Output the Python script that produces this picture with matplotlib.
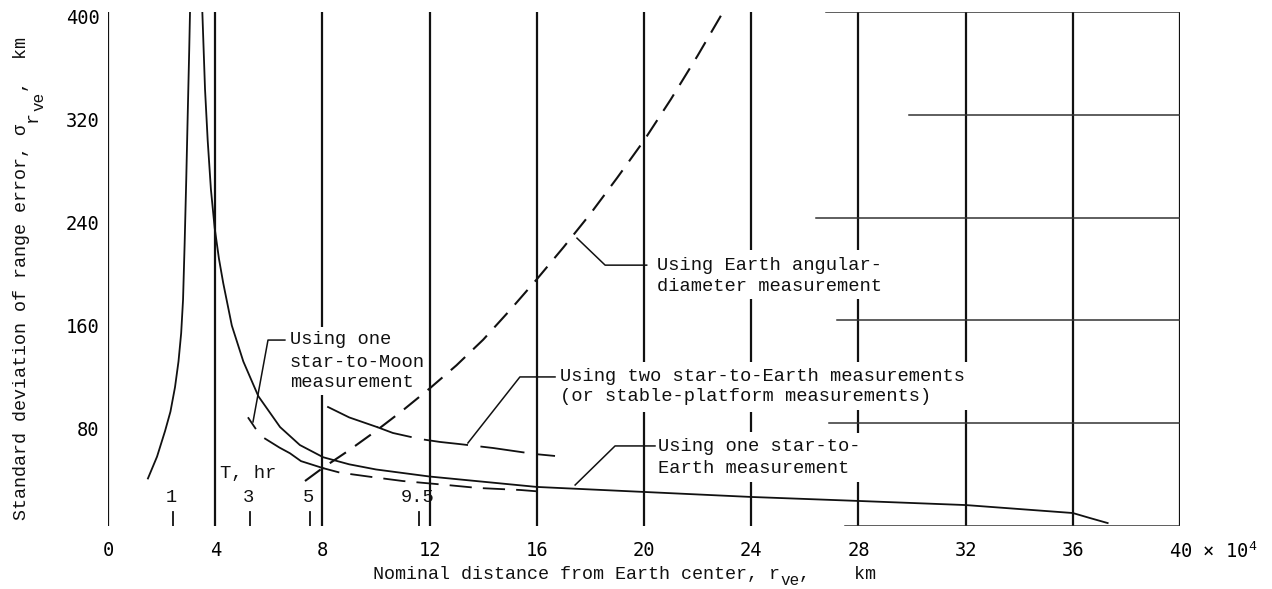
import matplotlib
matplotlib.use("Agg")
import matplotlib.pyplot as plt
from matplotlib.transforms import ScaledTranslation

plt.rcParams["font.family"] = ["Liberation Mono", "DejaVu Sans Mono"]
plt.rcParams["mathtext.fontset"] = "custom"
plt.rcParams["mathtext.rm"] = "Liberation Mono"
plt.rcParams["mathtext.it"] = "Liberation Mono"
plt.rcParams["mathtext.default"] = "rm"
plt.rcParams["lines.scale_dashes"] = False

# distance in units of 10^4 km, range error sigma in km
# one star-to-Earth measurement (two branches either side of the singularity)
earth1_left_x = [1.49, 1.83, 2.13, 2.33, 2.5, 2.63, 2.73, 2.80, 2.86, 2.92, 2.98, 3.03, 3.06]
earth1_left_y = [37, 54, 74, 89, 108, 128, 150, 176, 220, 270, 325, 370, 400]
earth1_right_x = [3.52, 3.62, 3.72, 3.84, 3.98, 4.14, 4.30, 4.62, 5.05, 5.61, 6.42, 7.16,
                  8.03, 9.0, 10.0, 12.0, 16.0, 20.0, 24.0, 28.0, 32.0, 36.0, 36.64, 37.3]
earth1_right_y = [400, 340, 300, 262, 232, 208, 189, 156, 128, 101, 77, 63,
                  53.5, 48, 44, 38.5, 30.4, 26.5, 22.6, 19.5, 16.3, 10.1, 6.2, 2.3]

# one star-to-Moon measurement
moon_x = [5.24, 5.5, 5.86, 6.4, 6.79, 7.2, 8.03, 8.66, 9.89, 11.0, 12.6, 13.8, 15.4, 16.0]
moon_y = [84, 76, 68, 61, 56.6, 50.5, 45, 41.5, 38, 35, 32, 29.6, 28, 27]

# two star-to-Earth measurements (or stable-platform measurements)
two_x = [8.21, 9.0, 10.04, 10.63, 11.64, 12.39, 13.1, 14.37, 15.93, 16.68]
two_y = [92.6, 84.5, 77, 72.4, 67.7, 65.4, 63.8, 60.7, 56, 54.5]

# Earth angular-diameter measurement
ang_x = [7.35, 8, 9, 10, 11, 12, 13, 14, 15, 16, 17, 18, 19, 20, 21, 22, 22.95]
ang_y = [35, 45, 59, 74, 90, 107, 125, 145, 168, 192, 217, 243, 271, 300, 332, 366, 400]

# flight time markers along the distance axis
time_labels = ["1", "3", "5", "9.5"]
time_x = [2.43, 5.3, 7.54, 11.6]

x_ticks = [0, 4, 8, 12, 16, 20, 24, 28, 32, 36, 40]
x_labels = ["0", "4", "8", "12", "16", "20", "24", "28", "32", "36", "40 × 10$^4$"]
y_ticks = [80, 160, 240, 320, 400]

W, H = 1272, 589
fig = plt.figure(figsize=(W / 100, H / 100), dpi=100)
ax = fig.add_axes([108 / W, 63 / H, 1072 / W, 514 / H])
ax.set_xlim(0, 40)
ax.set_ylim(0, 400)
for s in ax.spines.values():
    s.set_visible(False)

ink = "#111111"

# vertical rulings, broken where the notes sit
breaks = {
    8: [(0, 102), (155, 400)],
    20: [(0, 89), (128, 400)],
    24: [(0, 34), (73, 89), (128, 177), (215, 400)],
    28: [(0, 34), (72, 90), (128, 177), (215, 400)],
    32: [(0, 90), (128, 400)],
}
for xv in x_ticks:
    for y0, y1 in breaks.get(xv, [(0, 400)]):
        ax.plot([xv, xv], [y0, y1], color=ink, lw=1.6, solid_capstyle="butt")

# horizontal rulings only on the right part of the sheet
h_start = {400: 26.8, 320: 29.9, 240: 26.4, 160: 27.2, 80: 26.9, 0: 27.5}
for yv, x0 in h_start.items():
    ax.plot([x0, 40], [yv, yv], color="#333333", lw=1.1)

lw = 1.3
ax.plot(earth1_left_x, earth1_left_y, color=ink, lw=lw)
ax.plot(earth1_right_x, earth1_right_y, color=ink, lw=lw)

ax.plot(moon_x[:2], moon_y[:2], color=ink, lw=lw)
ax.plot(moon_x[2:7], moon_y[2:7], color=ink, lw=lw)
ax.plot(moon_x[6:], moon_y[6:], color=ink, lw=lw, linestyle=(4, (16, 8)))

ax.plot(two_x[:3], two_y[:3], color=ink, lw=lw)
ax.plot(two_x[2:], two_y[2:], color=ink, lw=lw, linestyle=(6, (32, 9)))

ax.plot(ang_x, ang_y, color=ink, lw=lw + 0.2, linestyle=(0, (14, 8)))

# leader lines
leaders = [
    ([17.5, 18.55, 20.1], [224, 203, 203]),
    ([13.43, 15.37, 16.68], [64.6, 116, 116]),
    ([17.43, 18.92, 20.41], [31.9, 62.3, 62.3]),
    ([5.41, 5.97, 6.6], [81, 144.7, 144.7]),
]
for lx, ly in leaders:
    ax.plot(lx, ly, color=ink, lw=1.1)

fs = 13.5
notes = [
    (20.5, 203, "Using Earth angular-"),
    (20.5, 186, "diameter measurement"),
    (16.87, 116.7, "Using two star-to-Earth measurements"),
    (16.87, 100.4, "(or stable-platform measurements)"),
    (20.52, 61.5, "Using one star-to-"),
    (20.52, 44.4, "Earth measurement"),
    (6.79, 145.5, "Using one"),
    (6.79, 127.6, "star-to-Moon"),
    (6.79, 112, "measurement"),
]
for tx, ty, s in notes:
    ax.text(tx, ty, s, fontsize=fs, ha="left", va="center", color=ink)

# time along trajectory
ax.text(4.18, 41, "T, hr", fontsize=fs, ha="left", va="center", color=ink)
for lab, tx in zip(time_labels, time_x):
    ax.plot([tx, tx], [0, 11], color=ink, lw=1.3)
    ax.text(tx - 0.05, 22, lab, fontsize=fs, ha="center", va="center", color=ink)

ax.set_xticks(x_ticks)
ax.set_xticklabels(x_labels, fontsize=13.5, family="DejaVu Sans Mono")
ax.set_yticks(y_ticks)
ax.set_yticklabels([str(v) for v in y_ticks], fontsize=13.5, family="DejaVu Sans Mono")
ax.tick_params(axis="x", length=0, pad=11)
ax.tick_params(axis="y", length=0, pad=6)
last = ax.get_xticklabels()[-1]
last.set_ha("left")
last.set_transform(last.get_transform() + ScaledTranslation(-0.11, 0, fig.dpi_scale_trans))
for lab in ax.get_yticklabels():
    lab.set_transform(lab.get_transform() + ScaledTranslation(0, -0.05, fig.dpi_scale_trans))

# axis titles typed in pieces so the subscripts sit like typewritten ones
renderer = fig.canvas.get_renderer()
lfs = 13.2
sfs = 11.5

t = fig.text(373 / W, 10 / H, "Nominal distance from Earth center, r",
             fontsize=lfs, ha="left", va="baseline", color=ink)
x_end = t.get_window_extent(renderer).x1
t = fig.text(x_end / W, 4 / H, "ve", fontsize=sfs, ha="left", va="baseline", color=ink)
x_end = t.get_window_extent(renderer).x1
fig.text(x_end / W, 10 / H, ",    km", fontsize=lfs, ha="left", va="baseline", color=ink)

ykw = dict(rotation=90, rotation_mode="anchor", ha="left", va="baseline", color=ink)
t = fig.text(26 / W, 69 / H, "Standard deviation of range error, σ", fontsize=lfs, **ykw)
y_end = t.get_window_extent(renderer).y1
t = fig.text(37 / W, (y_end + 2) / H, "r", fontsize=lfs, **ykw)
y_end = t.get_window_extent(renderer).y1
t = fig.text(43 / W, y_end / H, "ve", fontsize=sfs, **ykw)
y_end = t.get_window_extent(renderer).y1
fig.text(26 / W, y_end / H, ",  km", fontsize=lfs, **ykw)

fig.savefig("out.png", dpi=100, facecolor="white")
